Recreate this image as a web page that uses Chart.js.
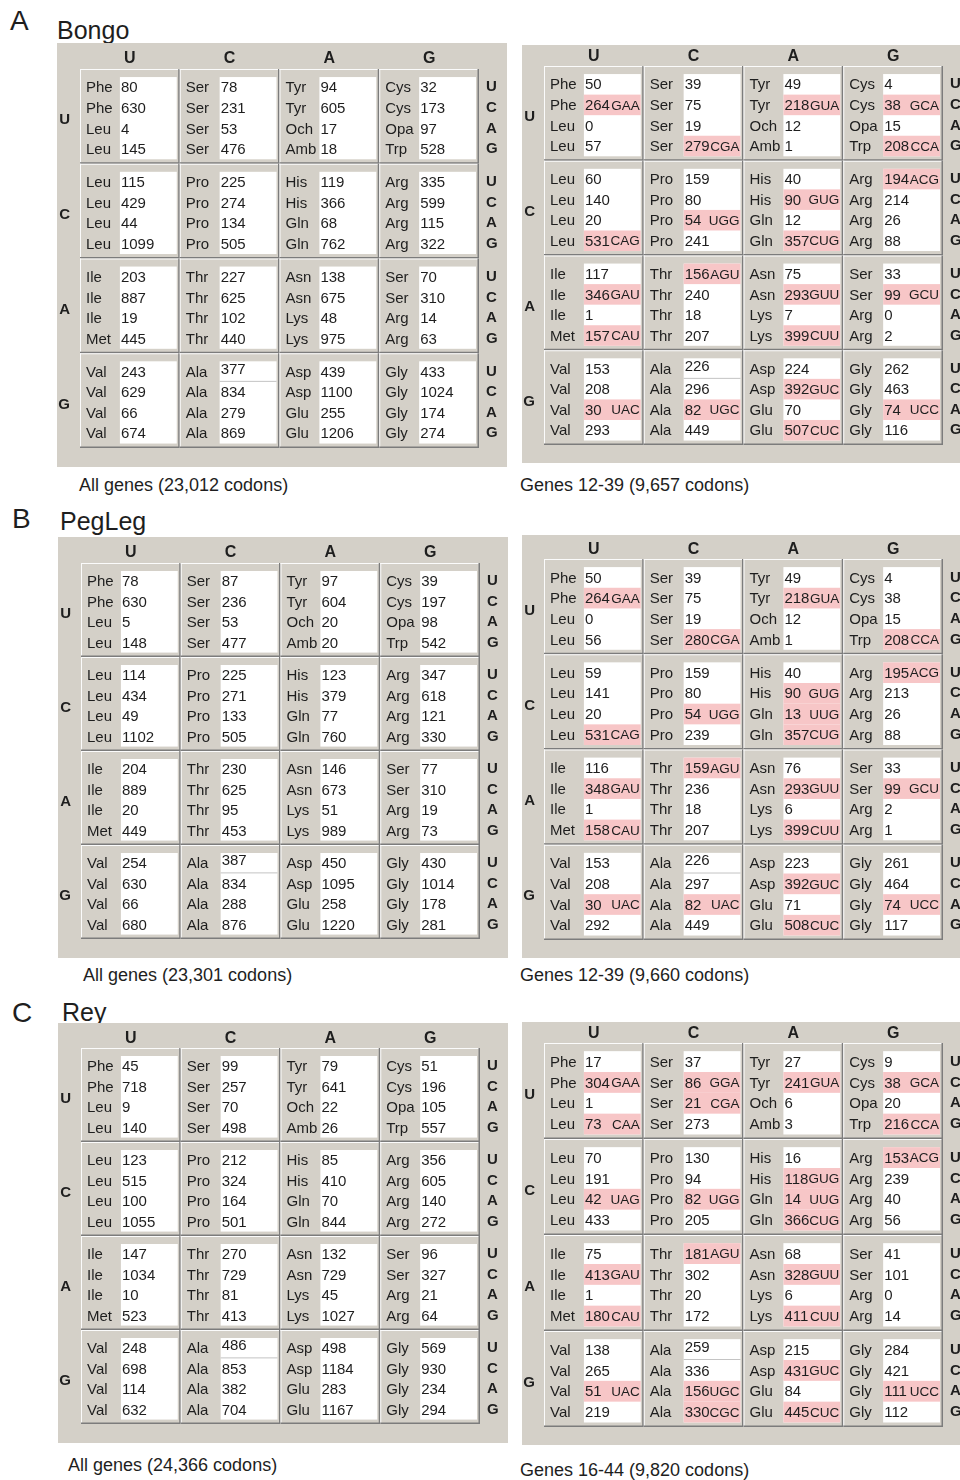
<!DOCTYPE html>
<html>
<head>
<meta charset="utf-8">
<script src="https://cdn.jsdelivr.net/npm/chart.js@4.4.1/dist/chart.umd.min.js"></script>
<style>
html, body { margin: 0; padding: 0; background: #fff; overflow: hidden; }
#page { position: relative; width: 960px; height: 1480px; overflow: hidden;
        font-family: "Liberation Sans", Arial, sans-serif; color: #1e1e1e; }
.lbl { position: absolute; line-height: 1; white-space: nowrap; }
.panel { font-size: 28px; }
.name { font-size: 25px; }
.cap { font-size: 18px; }
canvas { position: absolute; }
</style>
</head>
<body>
<div id="page">
  <div class="lbl panel" style="left:10px;top:7px">A</div>
  <div class="lbl name" style="left:57px;top:18px">Bongo</div>
  <canvas id="bongoAll" width="450" height="424" style="left:57px;top:43px"></canvas>
  <canvas id="bongoMid" width="450" height="418" style="left:522px;top:45px"></canvas>
  <div class="lbl cap" style="left:79px;top:476px">All genes (23,012 codons)</div>
  <div class="lbl cap" style="left:520px;top:476px">Genes 12-39 (9,657 codons)</div>

  <div class="lbl panel" style="left:12px;top:505px">B</div>
  <div class="lbl name" style="left:60px;top:509px">PegLeg</div>
  <canvas id="pegAll" width="450" height="421" style="left:58px;top:537px"></canvas>
  <canvas id="pegMid" width="450" height="423" style="left:522px;top:535px"></canvas>
  <div class="lbl cap" style="left:83px;top:966px">All genes (23,301 codons)</div>
  <div class="lbl cap" style="left:520px;top:966px">Genes 12-39 (9,660 codons)</div>

  <div class="lbl panel" style="left:12px;top:999px">C</div>
  <div class="lbl name" style="left:62px;top:1000px">Rey</div>
  <canvas id="reyAll" width="450" height="420" style="left:58px;top:1023px"></canvas>
  <canvas id="reyMid" width="450" height="423" style="left:522px;top:1022px"></canvas>
  <div class="lbl cap" style="left:68px;top:1456px">All genes (24,366 codons)</div>
  <div class="lbl cap" style="left:520px;top:1461px">Genes 16-44 (9,820 codons)</div>
</div>
<script>
// Codon order: first base, second base, third base (UUU, UUC, UUA, UUG, UCU, ...)
const bases = ['U', 'C', 'A', 'G'];

const aminoAcids = [
  'Phe','Phe','Leu','Leu', 'Ser','Ser','Ser','Ser', 'Tyr','Tyr','Och','Amb', 'Cys','Cys','Opa','Trp',
  'Leu','Leu','Leu','Leu', 'Pro','Pro','Pro','Pro', 'His','His','Gln','Gln', 'Arg','Arg','Arg','Arg',
  'Ile','Ile','Ile','Met', 'Thr','Thr','Thr','Thr', 'Asn','Asn','Lys','Lys', 'Ser','Ser','Arg','Arg',
  'Val','Val','Val','Val', 'Ala','Ala','Ala','Ala', 'Asp','Asp','Glu','Glu', 'Gly','Gly','Gly','Gly'
];

// Bongo
const bongoAll = [
  80, 630, 4, 145,     78, 231, 53, 476,     94, 605, 17, 18,      32, 173, 97, 528,
  115, 429, 44, 1099,  225, 274, 134, 505,   119, 366, 68, 762,    335, 599, 115, 322,
  203, 887, 19, 445,   227, 625, 102, 440,   138, 675, 48, 975,    70, 310, 14, 63,
  243, 629, 66, 674,   377, 834, 279, 869,   439, 1100, 255, 1206, 433, 1024, 174, 274
];
const bongoMid = [
  50, 264, 0, 57,      39, 75, 19, 279,      49, 218, 12, 1,       4, 38, 15, 208,
  60, 140, 20, 531,    159, 80, 54, 241,     40, 90, 12, 357,      194, 214, 26, 88,
  117, 346, 1, 157,    156, 240, 18, 207,    75, 293, 7, 399,      33, 99, 0, 2,
  153, 208, 30, 293,   226, 296, 82, 449,    224, 392, 70, 507,    262, 463, 74, 116
];
const bongoMidTrna = [
  '', 'GAA', '', '',   '', '', '', 'CGA',    '', 'GUA', '', '',    '', 'GCA', '', 'CCA',
  '', '', '', 'CAG',   '', '', 'UGG', '',    '', 'GUG', '', 'CUG', 'ACG', '', '', '',
  '', 'GAU', '', 'CAU', 'AGU', '', '', '',   '', 'GUU', '', 'CUU', '', 'GCU', '', '',
  '', '', 'UAC', '',   '', '', 'UGC', '',    '', 'GUC', '', 'CUC', '', '', 'UCC', ''
];

// PegLeg
const pegAll = [
  78, 630, 5, 148,     87, 236, 53, 477,     97, 604, 20, 20,      39, 197, 98, 542,
  114, 434, 49, 1102,  225, 271, 133, 505,   123, 379, 77, 760,    347, 618, 121, 330,
  204, 889, 20, 449,   230, 625, 95, 453,    146, 673, 51, 989,    77, 310, 19, 73,
  254, 630, 66, 680,   387, 834, 288, 876,   450, 1095, 258, 1220, 430, 1014, 178, 281
];
const pegMid = [
  50, 264, 0, 56,      39, 75, 19, 280,      49, 218, 12, 1,       4, 38, 15, 208,
  59, 141, 20, 531,    159, 80, 54, 239,     40, 90, 13, 357,      195, 213, 26, 88,
  116, 348, 1, 158,    159, 236, 18, 207,    76, 293, 6, 399,      33, 99, 2, 1,
  153, 208, 30, 292,   226, 297, 82, 449,    223, 392, 71, 508,    261, 464, 74, 117
];
const pegMidTrna = [
  '', 'GAA', '', '',   '', '', '', 'CGA',    '', 'GUA', '', '',    '', '', '', 'CCA',
  '', '', '', 'CAG',   '', '', 'UGG', '',    '', 'GUG', 'UUG', 'CUG', 'ACG', '', '', '',
  '', 'GAU', '', 'CAU', 'AGU', '', '', '',   '', 'GUU', '', 'CUU', '', 'GCU', '', '',
  '', '', 'UAC', '',   '', '', 'UAC', '',    '', 'GUC', '', 'CUC', '', '', 'UCC', ''
];

// Rey
const reyAll = [
  45, 718, 9, 140,     99, 257, 70, 498,     79, 641, 22, 26,      51, 196, 105, 557,
  123, 515, 100, 1055, 212, 324, 164, 501,   85, 410, 70, 844,     356, 605, 140, 272,
  147, 1034, 10, 523,  270, 729, 81, 413,    132, 729, 45, 1027,   96, 327, 21, 64,
  248, 698, 114, 632,  486, 853, 382, 704,   498, 1184, 283, 1167, 569, 930, 234, 294
];
const reyMid = [
  17, 304, 1, 73,      37, 86, 21, 273,      27, 241, 6, 3,        9, 38, 20, 216,
  70, 191, 42, 433,    130, 94, 82, 205,     16, 118, 14, 366,     153, 239, 40, 56,
  75, 413, 1, 180,     181, 302, 20, 172,    68, 328, 6, 411,      41, 101, 0, 14,
  138, 265, 51, 219,   259, 336, 156, 330,   215, 431, 84, 445,    284, 421, 111, 112
];
const reyMidTrna = [
  '', 'GAA', '', 'CAA', '', 'GGA', 'CGA', '', '', 'GUA', '', '',   '', 'GCA', '', 'CCA',
  '', '', 'UAG', '',   '', '', 'UGG', '',    '', 'GUG', 'UUG', 'CUG', 'ACG', '', '', '',
  '', 'GAU', '', 'CAU', 'AGU', '', '', '',   '', 'GUU', '', 'CUU', '', '', '', '',
  '', '', 'UAC', '',   '', '', 'UGC', 'CGC', '', 'GUC', '', 'CUC', '', '', 'UCC', ''
];

const noTrna = new Array(64).fill('');

const FONT = '"Liberation Sans", Arial, sans-serif';
const INK = '#1e1e1e';
const blockTop = 0.085;   // part of a block above its first codon row
const rowStep = 0.217;    // part of a block for each codon row
const valueStart = 0.40;  // part of a column taken by the amino acid name

function rowCenter(first, third) {
  return first + blockTop + rowStep * (third + 0.5);
}

const codonTable = {
  id: 'codonTable',
  beforeDraw(chart) {
    const ctx = chart.ctx;
    ctx.save();
    ctx.fillStyle = '#d4d0c8';
    ctx.fillRect(0, 0, chart.width, chart.height);
    ctx.restore();
  },
  beforeDatasetsDraw(chart, args, opts) {
    const { ctx, scales: { x, y } } = chart;
    ctx.save();
    for (let f = 0; f < 4; f++) {
      for (let s = 0; s < 4; s++) {
        const x0 = x.getPixelForValue(s), x1 = x.getPixelForValue(s + 1);
        const y0 = y.getPixelForValue(f), y1 = y.getPixelForValue(f + 1);
        const wl = x.getPixelForValue(s + valueStart), wr = x1 - 3;
        const wt = y.getPixelForValue(f + blockTop);
        const wb = y.getPixelForValue(f + blockTop + 4 * rowStep);
        ctx.fillStyle = '#ffffff';
        ctx.fillRect(wl, wt, wr - wl, wb - wt);
        for (let t = 0; t < 4; t++) {
          if (!opts.trna[f * 16 + s * 4 + t]) continue;
          const a = y.getPixelForValue(f + blockTop + rowStep * t);
          const b = y.getPixelForValue(f + blockTop + rowStep * (t + 1));
          ctx.fillStyle = '#f7c6c7';
          ctx.fillRect(wl, a, wr - wl, b - a);
        }
        // Ala GCU row sits in its own little box
        if (f === 3 && s === 1) {
          const a = y.getPixelForValue(f + blockTop + rowStep);
          ctx.fillStyle = '#c4c4c4';
          ctx.fillRect(wl, a - 1, wr - wl, 1);
        }
        // raised panel edges
        ctx.fillStyle = '#fbfbfb';
        ctx.fillRect(x0, y0, x1 - x0, 1);
        ctx.fillRect(x0, y0, 1, y1 - y0);
        ctx.fillStyle = '#7c7c7c';
        ctx.fillRect(x0, y1 - 1.5, x1 - x0, 1.5);
        ctx.fillRect(x1 - 1.5, y0, 1.5, y1 - y0);
      }
    }
    ctx.restore();
  },
  afterDatasetsDraw(chart, args, opts) {
    const { ctx, scales: { x } } = chart;
    const meta = chart.getDatasetMeta(0);
    const points = chart.data.datasets[0].data;
    ctx.save();
    ctx.fillStyle = INK;
    ctx.textBaseline = 'middle';
    meta.data.forEach((el, i) => {
      const s = Math.floor(i / 4) % 4;
      const lift = (i === 52) ? 3 : 0;
      ctx.textAlign = 'left';
      ctx.font = '15px ' + FONT;
      ctx.fillText(aminoAcids[i], x.getPixelForValue(s) + 6, el.y + 1);
      ctx.fillText(String(points[i].n), el.x + 1, el.y + 1 - lift);
      if (opts.trna[i]) {
        ctx.font = '13.5px ' + FONT;
        ctx.textAlign = 'right';
        ctx.fillText(opts.trna[i], x.getPixelForValue(s + 1) - 4, el.y + 1);
      }
    });
    ctx.restore();
  }
};

function letterTicks(size) {
  return { font: { family: FONT, size: size, weight: 'bold' }, color: INK, autoSkip: false, maxRotation: 0 };
}

function makeTable(id, counts, trna, geo) {
  const points = counts.map((n, i) => ({
    x: Math.floor(i / 4) % 4 + valueStart,
    y: rowCenter(Math.floor(i / 16), i % 4),
    n: n
  }));
  const canvas = document.getElementById(id);
  return new Chart(canvas.getContext('2d'), {
    type: 'scatter',
    data: { datasets: [{ data: points, pointRadius: 0, pointHoverRadius: 0 }] },
    plugins: [codonTable],
    options: {
      responsive: false,
      animation: false,
      events: [],
      layout: { padding: { left: 0, right: 0, top: 0, bottom: geo.bottom } },
      plugins: { legend: { display: false }, tooltip: { enabled: false }, codonTable: { trna: trna } },
      scales: {
        x: {
          type: 'linear', position: 'top', min: 0, max: 4,
          grid: { display: false, drawTicks: false }, border: { display: false },
          afterBuildTicks: a => { a.ticks = bases.map((b, k) => ({ value: k + 0.5 })); },
          afterFit: a => { a.height = geo.top; },
          ticks: Object.assign(letterTicks(16), { padding: Math.max(0, geo.head - 12.6), callback: v => bases[Math.floor(v)] })
        },
        y: {
          type: 'linear', position: 'left', min: 0, max: 4, reverse: true,
          grid: { display: false, drawTicks: false }, border: { display: false },
          afterBuildTicks: a => { a.ticks = bases.map((b, k) => ({ value: rowCenter(k, 1.6) })); },
          afterFit: a => { a.width = geo.left; },
          ticks: Object.assign(letterTicks(15), { padding: geo.left - 13, callback: v => bases[Math.floor(v)] })
        },
        y2: {
          type: 'linear', position: 'right', min: 0, max: 4, reverse: true,
          grid: { display: false, drawTicks: false }, border: { display: false },
          afterBuildTicks: a => {
            const t = [];
            for (let f = 0; f < 4; f++) for (let k = 0; k < 4; k++) t.push({ value: rowCenter(f, k) });
            a.ticks = t;
          },
          afterFit: a => { a.width = 450 - geo.left - 399; },
          ticks: Object.assign(letterTicks(15), { padding: 7, callback: (v, i) => bases[i % 4] })
        }
      }
    }
  });
}

makeTable('bongoAll', bongoAll, noTrna,       { top: 26, head: 13, bottom: 5, left: 23 });
makeTable('bongoMid', bongoMid, bongoMidTrna, { top: 21, head: 11, bottom: 2, left: 22 });
makeTable('pegAll',   pegAll,   noTrna,       { top: 26, head: 13, bottom: 6, left: 23 });
makeTable('pegMid',   pegMid,   pegMidTrna,   { top: 24, head: 12, bottom: 6, left: 22 });
makeTable('reyAll',   reyAll,   noTrna,       { top: 25, head: 11, bottom: 8, left: 23 });
makeTable('reyMid',   reyMid,   reyMidTrna,   { top: 21, head: 11, bottom: 4, left: 22 });
</script>
</body>
</html>
